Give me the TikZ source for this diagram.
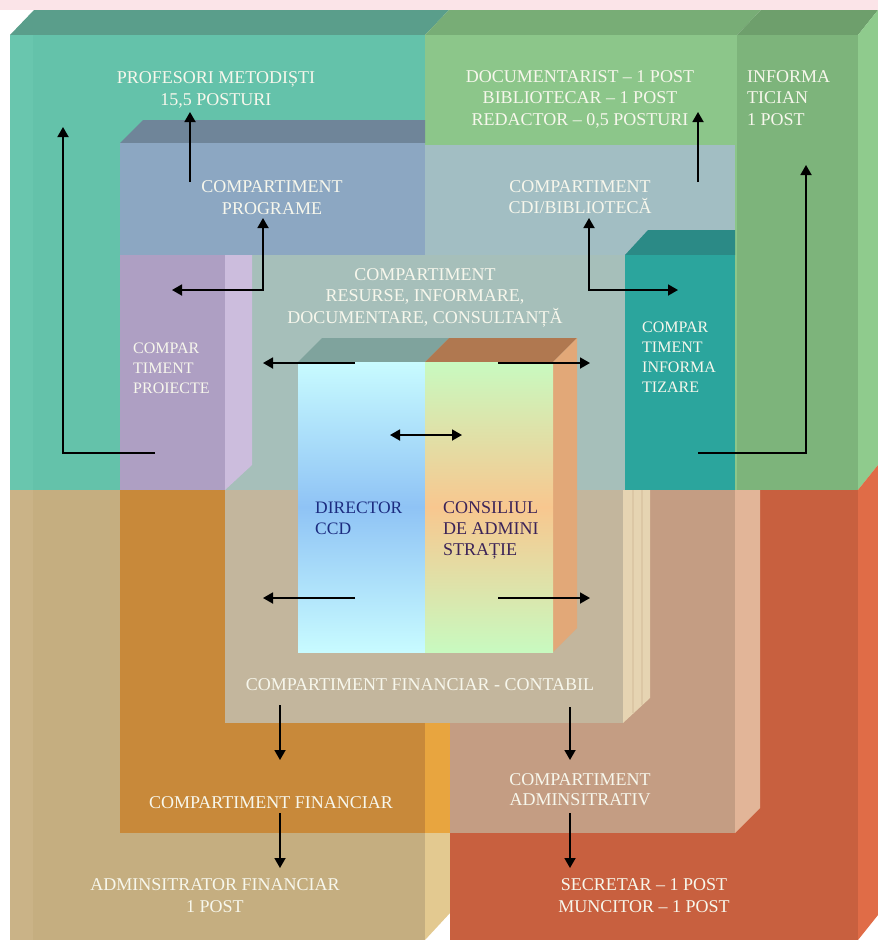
\documentclass[tikz,border=0pt]{standalone}
\usepackage{fontspec}
\setmainfont{Liberation Serif}
\usetikzlibrary{arrows.meta}
\definecolor{bgpink}{HTML}{FBE4E8}
\definecolor{tlTop}{HTML}{5A9E8B}
\definecolor{trTop}{HTML}{78AD76}
\definecolor{infTop}{HTML}{6E9F6C}
\definecolor{sideG}{HTML}{8FCB8D}
\definecolor{sideO}{HTML}{E06C47}
\definecolor{tealc}{HTML}{64C2AA}
\definecolor{tealL}{HTML}{69C6AE}
\definecolor{greenc}{HTML}{8CC68A}
\definecolor{infcol}{HTML}{7DB47B}
\definecolor{tanc}{HTML}{C5AE80}
\definecolor{tanL}{HTML}{CAB387}
\definecolor{redc}{HTML}{C8603F}
\definecolor{blueTop}{HTML}{6F8599}
\definecolor{bluec}{HTML}{8CA7C2}
\definecolor{cdic}{HTML}{A2BEC3}
\definecolor{itTop}{HTML}{2B8A86}
\definecolor{itc}{HTML}{2BA59D}
\definecolor{purplec}{HTML}{AE9FC3}
\definecolor{purpleL}{HTML}{CCBDDD}
\definecolor{resc}{HTML}{A6BFBA}
\definecolor{fcc}{HTML}{C3B69D}
\definecolor{fcSide}{HTML}{E6D4B2}
\definecolor{fcStripe}{HTML}{DCC7A5}
\definecolor{finc}{HTML}{C8893A}
\definecolor{finSide}{HTML}{E8A53F}
\definecolor{tanSide}{HTML}{E3C990}
\definecolor{admc}{HTML}{C49D83}
\definecolor{admSide}{HTML}{E2B598}
\definecolor{ctrTopL}{HTML}{7FA39D}
\definecolor{ctrTopR}{HTML}{B07850}
\definecolor{ctrSide}{HTML}{E2A878}
\definecolor{cyanl}{HTML}{C8FBFF}
\definecolor{bluem}{HTML}{8FC3F5}
\definecolor{greenl}{HTML}{C8FAC0}
\definecolor{orangem}{HTML}{F8C78F}
\definecolor{labelc}{HTML}{F7F7EC}
\definecolor{navy}{HTML}{1C2C80}
\definecolor{plum}{HTML}{3C2458}
\newcommand{\lnsC}[1]{\begin{tabular}[t]{@{}c@{}}#1\end{tabular}}
\newcommand{\lnsL}[1]{\begin{tabular}[t]{@{}l@{}}#1\end{tabular}}
\begin{document}
\begin{tikzpicture}[x=1pt,y=-1pt,
  lbl/.style={text=labelc, inner sep=0pt, anchor=base, font=\fontsize{18}{22}\selectfont},
  lblw/.style={lbl, anchor=base west},
  small/.style={font=\fontsize{16}{20}\selectfont},
  arr/.style={line width=1.8pt, -{Triangle[length=10pt,width=11pt]}},
  darr/.style={line width=1.8pt, {Triangle[length=10pt,width=11pt]}-{Triangle[length=10pt,width=11pt]}}]
\useasboundingbox (0,0) rectangle (878,940);
% background
\fill[white] (0,0) rectangle (878,940);
\fill[bgpink] (0,0) rectangle (878,10);
% outer cube: top face
\fill[tlTop] (10,35) -- (34,10) -- (449,10) -- (425,35) -- cycle;
\fill[trTop] (425,35) -- (449,10) -- (761,10) -- (737,35) -- cycle;
\fill[infTop] (737,35) -- (761,10) -- (878,10) -- (858,35) -- cycle;
% right side face
\fill[sideG] (858,35) -- (878,10) -- (878,465) -- (858,490) -- cycle;
\fill[sideO] (858,490) -- (878,465) -- (878,915) -- (858,940) -- cycle;
% front quadrants
\fill[tealc] (10,35) rectangle (425,490);
\fill[tealL] (10,35) rectangle (33,490);
\fill[greenc] (425,35) rectangle (858,490);
\fill[infcol] (737,35) rectangle (858,490);
\fill[tanc] (10,490) rectangle (425,940);
\fill[tanL] (10,490) rectangle (33,940);
\fill[tanSide] (425,490) -- (450,490) -- (450,913) -- (425,940) -- cycle;
\fill[redc] (450,490) rectangle (858,940);
% second level, top half
\fill[blueTop] (120,143) -- (143,120) -- (425,120) -- (425,143) -- cycle;
\fill[bluec] (120,143) rectangle (425,255);
\fill[cdic] (425,145) rectangle (735,255);
\fill[resc] (225,255) rectangle (625,490);
\fill[itTop] (625,255) -- (648,230) -- (735,230) -- (735,255) -- cycle;
\fill[itc] (625,255) rectangle (735,490);
\fill[purplec] (120,255) rectangle (225,490);
\fill[purpleL] (225,255) -- (252,255) -- (252,465) -- (225,490) -- cycle;
% second level, bottom half
\fill[finc] (120,490) rectangle (425,833);
\fill[finSide] (425,490) rectangle (450,833);
\fill[admc] (450,490) rectangle (735,833);
\fill[admSide] (735,490) -- (760,490) -- (760,808) -- (735,833) -- cycle;
\fill[fcc] (225,490) rectangle (623,723);
\fill[fcSide] (623,490) -- (650,490) -- (650,698) -- (623,723) -- cycle;
\draw[fcStripe, line width=2pt] (633,490) -- (633,713);
\draw[fcStripe, line width=1.5pt] (642,490) -- (642,705);
% center box
\fill[ctrTopL] (298,362) -- (322,338) -- (449,338) -- (425,362) -- cycle;
\fill[ctrTopR] (425,362) -- (449,338) -- (577,338) -- (553,362) -- cycle;
\fill[ctrSide] (553,362) -- (577,338) -- (577,628) -- (553,652) -- cycle;
\shade[top color=cyanl, bottom color=cyanl, middle color=bluem] (298,362) rectangle (425,652);
\shade[top color=greenl, bottom color=greenl, middle color=orangem] (425,362) rectangle (553,652);
% labels
\node[lbl] (prof) at (216,83) {\lnsC{PROFESORI METODIȘTI\\15,5 POSTURI}};
\node[lbl, font=\fontsize{18}{21.5}\selectfont] (doc) at (580,82) {\lnsC{DOCUMENTARIST – 1 POST\\BIBLIOTECAR – 1 POST\\REDACTOR – 0,5 POSTURI}};
\node[lblw, font=\fontsize{18}{21.5}\selectfont] (infm) at (747,82) {\lnsL{INFORMA\\TICIAN\\1 POST}};
\node[lbl] (prog) at (272,192) {\lnsC{COMPARTIMENT\\PROGRAME}};
\node[lbl, font=\fontsize{18}{21.5}\selectfont] (cdi) at (580,192) {\lnsC{COMPARTIMENT\\CDI/BIBLIOTECĂ}};
\node[lbl, font=\fontsize{18}{21.5}\selectfont] (res) at (425,280) {\lnsC{COMPARTIMENT\\RESURSE, INFORMARE,\\DOCUMENTARE, CONSULTANȚĂ}};
\node[lblw, small] (proi) at (133,353) {\lnsL{COMPAR\\TIMENT\\PROIECTE}};
\node[lblw, small] (infz) at (642,332) {\lnsL{COMPAR\\TIMENT\\INFORMA\\TIZARE}};
\node[lblw, text=navy, font=\fontsize{17.5}{21}\selectfont] (dir) at (315,513) {\lnsL{DIRECTOR\\CCD}};
\node[lblw, text=plum, font=\fontsize{18}{21}\selectfont] (cons) at (443,513) {\lnsL{CONSILIUL\\DE ADMINI\\STRAȚIE}};
\node[lbl] (fc) at (420,690) {COMPARTIMENT FINANCIAR - CONTABIL};
\node[lbl] (fin) at (271,808) {COMPARTIMENT FINANCIAR};
\node[lbl, font=\fontsize{18}{20.5}\selectfont] (adm) at (580,785) {\lnsC{COMPARTIMENT\\ADMINSITRATIV}};
\node[lbl] (admf) at (215,890) {\lnsC{ADMINSITRATOR FINANCIAR\\1 POST}};
\node[lbl] (sec) at (644,890) {\lnsC{SECRETAR – 1 POST\\MUNCITOR – 1 POST}};
% connector coordinates
\coordinate (a1s) at (190,182); \coordinate (a1e) at (190,112);
\coordinate (a2s) at (155,453); \coordinate (a2c) at (63,453); \coordinate (a2e) at (63,127);
\coordinate (a3s) at (263,218); \coordinate (a3c) at (263,290); \coordinate (a3e) at (172,290);
\coordinate (a4s) at (589,218); \coordinate (a4c) at (589,290); \coordinate (a4e) at (678,290);
\coordinate (a5s) at (698,182); \coordinate (a5e) at (698,112);
\coordinate (a6s) at (698,453); \coordinate (a6c) at (806,453); \coordinate (a6e) at (806,165);
\coordinate (g1s) at (355,363); \coordinate (g1e) at (263,363);
\coordinate (g2s) at (498,363); \coordinate (g2e) at (590,363);
\coordinate (g3s) at (355,598); \coordinate (g3e) at (263,598);
\coordinate (g4s) at (498,598); \coordinate (g4e) at (590,598);
\coordinate (hs) at (390,435); \coordinate (he) at (462,435);
\coordinate (is) at (280,705); \coordinate (ie) at (280,760);
\coordinate (js) at (280,813); \coordinate (je) at (280,868);
\coordinate (ks) at (570,707); \coordinate (ke) at (570,760);
\coordinate (ls) at (570,813); \coordinate (le) at (570,868);
% connectors
\draw[arr] (a1s) -- (a1e);
\draw[arr] (a2s) -- (a2c) -- (a2e);
\draw[darr] (a3s) -- (a3c) -- (a3e);
\draw[darr] (a4s) -- (a4c) -- (a4e);
\draw[arr] (a5s) -- (a5e);
\draw[arr] (a6s) -- (a6c) -- (a6e);
\draw[arr] (g1s) -- (g1e);
\draw[arr] (g2s) -- (g2e);
\draw[arr] (g3s) -- (g3e);
\draw[arr] (g4s) -- (g4e);
\draw[darr] (hs) -- (he);
\draw[arr] (is) -- (ie);
\draw[arr] (js) -- (je);
\draw[arr] (ks) -- (ke);
\draw[arr] (ls) -- (le);
\end{tikzpicture}
\end{document}
